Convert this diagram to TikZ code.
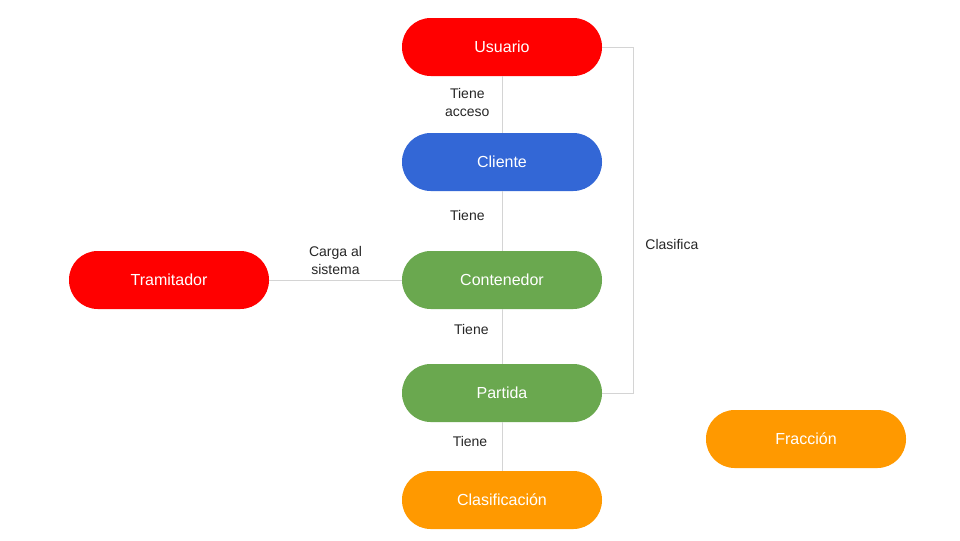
\documentclass[tikz,border=0pt]{standalone}
\usepackage{fontspec}
\setmainfont{Liberation Sans}
\usepackage{tikz}

\definecolor{rojo}{HTML}{FF0000}
\definecolor{azul}{HTML}{3367D6}
\definecolor{verde}{HTML}{6AA84F}
\definecolor{naranja}{HTML}{FF9900}
\definecolor{linea}{HTML}{D4D4D4}

\tikzset{
	caja/.style = {rounded corners=21.5pt, minimum width=150pt, minimum height=43.5pt, text=white, font=\fontsize{12}{14}\selectfont, inner sep=0pt},
	link/.style = {linea, line width=0.7pt},
	rotulo/.style = {font=\fontsize{10.5}{13.5}\selectfont, text=black!85, align=center, inner sep=2pt}
}

\begin{document}
\begin{tikzpicture}[x=0.75pt, y=-0.75pt]
	\useasboundingbox (0,0) rectangle (960,540);
	\node [caja, fill = rojo] (usuario) at (502,47) {Usuario};
	\node [caja, fill = azul] (cliente) at (502,162) {Cliente};
	\node [caja, fill = verde] (contenedor) at (502,280) {Contenedor};
	\node [caja, fill = verde] (partida) at (502,393) {Partida};
	\node [caja, fill = naranja] (clasificacion) at (502,500) {Clasificación};
	\node [caja, fill = rojo] (tramitador) at (169,280) {Tramitador};
	\node [caja, fill = naranja] (fraccion) at (806,439) {Fracción};
	\coordinate (codo) at (633,47);
	
	\draw [link] (usuario) -- node [rotulo, midway, xshift=-26pt, yshift=1.5pt] {Tiene\\acceso} (cliente);
	\draw [link] (cliente) -- node [rotulo, midway, xshift=-26pt, yshift=4pt] {Tiene} (contenedor);
	\draw [link] (contenedor) -- node [rotulo, midway, xshift=-23pt, yshift=5pt] {Tiene} (partida);
	\draw [link] (partida) -- node [rotulo, midway, xshift=-24pt, yshift=3.5pt] {Tiene} (clasificacion);
	\draw [link] (tramitador) -- node [rotulo, midway, above, yshift=1.5pt] {Carga al\\sistema} (contenedor);
	\draw [link] (usuario.east) -- (codo) |- node [rotulo, pos=0.286, right, xshift=7pt] {Clasifica} (partida.east);
	
\end{tikzpicture}
\end{document}
